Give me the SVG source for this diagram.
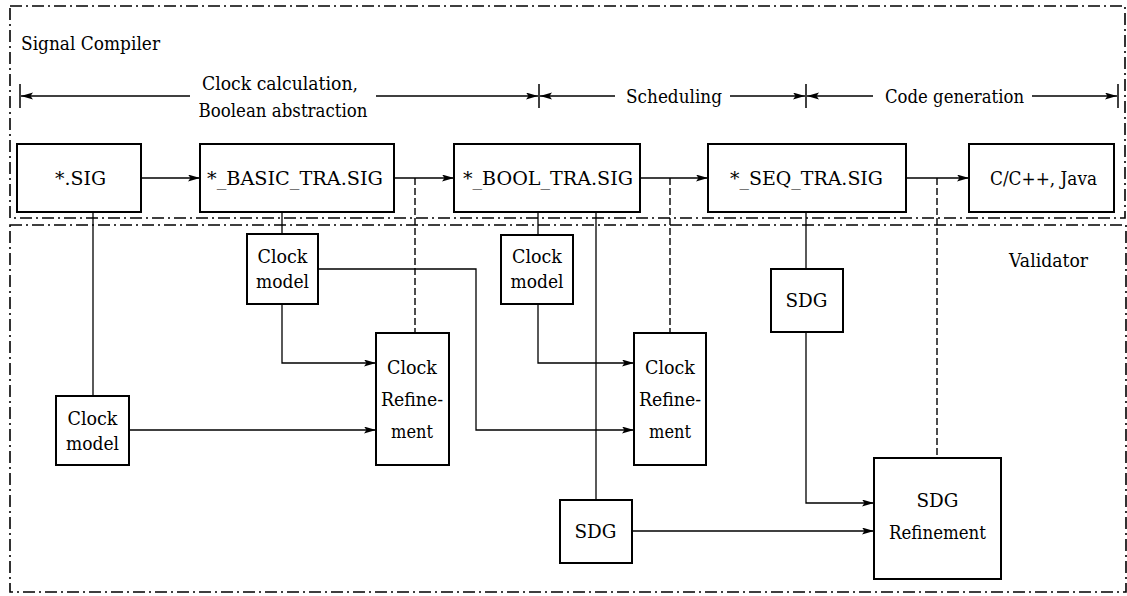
<svg xmlns="http://www.w3.org/2000/svg" width="1127" height="596" viewBox="0 0 1127 596">
<defs>
<marker id="ah" markerUnits="userSpaceOnUse" markerWidth="14" markerHeight="8" refX="12" refY="3.5" orient="auto">
<path d="M0,0 L12,3.5 L0,7 L2.5,3.5 z" fill="#000"/>
</marker>
<style>
text{font-family:'DejaVu Serif','Liberation Serif',serif;font-size:19px;fill:#000}
.box{fill:#fff;stroke:#000;stroke-width:2}
.frame{fill:none;stroke:#000;stroke-width:1.6;stroke-dasharray:12 4 2 4}
.c{fill:none;stroke:#000;stroke-width:1.3}
.a{fill:none;stroke:#000;stroke-width:1.3;marker-end:url(#ah)}
.d{fill:none;stroke:#000;stroke-width:1.4;stroke-dasharray:7 3}
.t{stroke:#000;stroke-width:1.5}
.m{text-anchor:middle}
</style>
</defs>
<rect width="1127" height="596" fill="#fff"/>
<g id="frames">
<rect class="frame" x="10" y="6" width="1115" height="212"/>
<rect class="frame" x="10" y="225" width="1116" height="367"/>
<text x="21" y="50" textLength="139" lengthAdjust="spacingAndGlyphs">Signal Compiler</text>
<text x="1009" y="267" textLength="79" lengthAdjust="spacingAndGlyphs">Validator</text>
</g>

<g id="phases">
<line class="t" x1="20" y1="84" x2="20" y2="108"/>
<line class="t" x1="539" y1="84" x2="539" y2="108"/>
<line class="t" x1="806" y1="84" x2="806" y2="108"/>
<line class="t" x1="1118" y1="84" x2="1118" y2="108"/>
<line class="a" x1="190" y1="96" x2="21" y2="96"/>
<line class="a" x1="376" y1="96" x2="538" y2="96"/>
<line class="a" x1="615" y1="96" x2="540" y2="96"/>
<line class="a" x1="730" y1="96" x2="805" y2="96"/>
<line class="a" x1="873" y1="96" x2="807" y2="96"/>
<line class="a" x1="1032" y1="96" x2="1117" y2="96"/>
<text class="m" x="280" y="90" textLength="156" lengthAdjust="spacingAndGlyphs">Clock calculation,</text>
<text class="m" x="283" y="117" textLength="169" lengthAdjust="spacingAndGlyphs">Boolean abstraction</text>
<text class="m" x="674" y="103" textLength="96" lengthAdjust="spacingAndGlyphs">Scheduling</text>
<text class="m" x="954.5" y="103" textLength="139" lengthAdjust="spacingAndGlyphs">Code generation</text>
</g>

<g id="connectors">
<line class="a" x1="141" y1="178" x2="200" y2="178"/>
<line class="a" x1="394" y1="178" x2="454" y2="178"/>
<line class="a" x1="640" y1="178" x2="708" y2="178"/>
<line class="a" x1="906" y1="178" x2="969" y2="178"/>
<line class="d" x1="415" y1="178" x2="415" y2="333"/>
<line class="d" x1="670" y1="178" x2="670" y2="333"/>
<line class="d" x1="937" y1="178" x2="937" y2="458"/>
<line class="c" x1="93" y1="212" x2="93" y2="396"/>
<line class="c" x1="282" y1="212" x2="282" y2="234"/>
<line class="c" x1="538" y1="212" x2="538" y2="235"/>
<line class="c" x1="596" y1="212" x2="596" y2="500"/>
<line class="c" x1="806" y1="212" x2="806" y2="269"/>
<polyline class="a" points="282,304 282,363 376,363"/>
<line class="a" x1="129" y1="430" x2="376" y2="430"/>
<polyline class="a" points="318,269 476,269 476,430 634,430"/>
<polyline class="a" points="538,304 538,363 634,363"/>
<line class="a" x1="632" y1="531" x2="874" y2="531"/>
<polyline class="a" points="806,332 806,503 874,503"/>
</g>

<g id="n-sig"><rect class="box" x="17" y="144" width="124" height="68"/><text class="m" x="80.5" y="185" textLength="51" lengthAdjust="spacingAndGlyphs">*.SIG</text></g>
<g id="n-basic"><rect class="box" x="200" y="144" width="194" height="68"/><text class="m" x="295" y="185" textLength="176" lengthAdjust="spacingAndGlyphs">*_BASIC_TRA.SIG</text></g>
<g id="n-bool"><rect class="box" x="454" y="144" width="186" height="68"/><text class="m" x="548" y="185" textLength="170" lengthAdjust="spacingAndGlyphs">*_BOOL_TRA.SIG</text></g>
<g id="n-seq"><rect class="box" x="708" y="144" width="198" height="68"/><text class="m" x="806.5" y="185" textLength="153" lengthAdjust="spacingAndGlyphs">*_SEQ_TRA.SIG</text></g>
<g id="n-code"><rect class="box" x="969" y="144" width="145" height="68"/><text class="m" x="1043.5" y="185" textLength="107" lengthAdjust="spacingAndGlyphs">C/C++, Java</text></g>

<g id="n-cm1"><rect class="box" x="247" y="234" width="71" height="70"/><text class="m" x="282.5" y="263" textLength="50" lengthAdjust="spacingAndGlyphs">Clock</text><text class="m" x="282.5" y="288" textLength="53" lengthAdjust="spacingAndGlyphs">model</text></g>
<g id="n-cm2"><rect class="box" x="501" y="235" width="72" height="69"/><text class="m" x="537" y="263" textLength="50" lengthAdjust="spacingAndGlyphs">Clock</text><text class="m" x="537" y="288" textLength="53" lengthAdjust="spacingAndGlyphs">model</text></g>
<g id="n-cm3"><rect class="box" x="56" y="396" width="73" height="69"/><text class="m" x="92.5" y="425" textLength="50" lengthAdjust="spacingAndGlyphs">Clock</text><text class="m" x="92.5" y="450" textLength="53" lengthAdjust="spacingAndGlyphs">model</text></g>
<g id="n-cr1"><rect class="box" x="376" y="333" width="73" height="132"/><text class="m" x="412" y="374" textLength="50" lengthAdjust="spacingAndGlyphs">Clock</text><text class="m" x="412" y="406" textLength="62" lengthAdjust="spacingAndGlyphs">Refine-</text><text class="m" x="412" y="438" textLength="42" lengthAdjust="spacingAndGlyphs">ment</text></g>
<g id="n-cr2"><rect class="box" x="634" y="333" width="72" height="132"/><text class="m" x="670" y="374" textLength="50" lengthAdjust="spacingAndGlyphs">Clock</text><text class="m" x="670" y="406" textLength="62" lengthAdjust="spacingAndGlyphs">Refine-</text><text class="m" x="670" y="438" textLength="42" lengthAdjust="spacingAndGlyphs">ment</text></g>
<g id="n-sdg1"><rect class="box" x="560" y="500" width="72" height="63"/><text class="m" x="595.5" y="538" textLength="42" lengthAdjust="spacingAndGlyphs">SDG</text></g>
<g id="n-sdg2"><rect class="box" x="771" y="269" width="72" height="63"/><text class="m" x="806.5" y="307" textLength="42" lengthAdjust="spacingAndGlyphs">SDG</text></g>
<g id="n-sdgr"><rect class="box" x="874" y="458" width="127" height="121"/><text class="m" x="937.5" y="507" textLength="42" lengthAdjust="spacingAndGlyphs">SDG</text><text class="m" x="937.5" y="539" textLength="97" lengthAdjust="spacingAndGlyphs">Refinement</text></g>
</svg>
